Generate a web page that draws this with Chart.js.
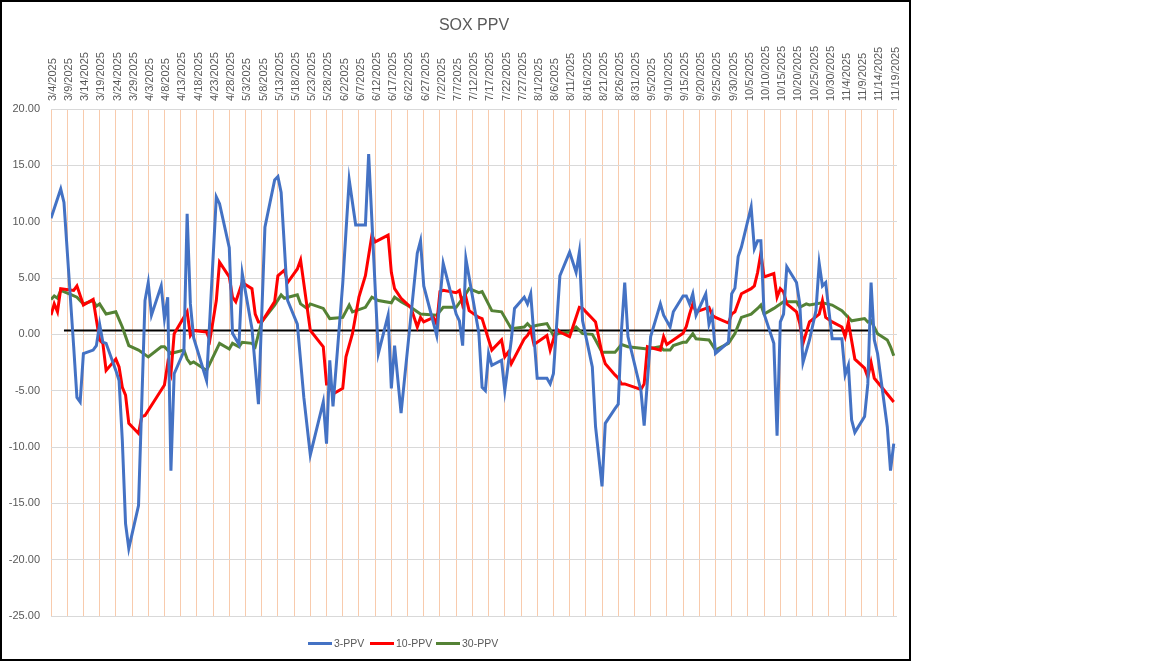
<!DOCTYPE html>
<html>
<head>
<meta charset="utf-8">
<script src="https://cdn.jsdelivr.net/npm/chart.js@4.4.1/dist/chart.umd.min.js"></script>
<style>
  body { margin: 0; background: #fff; font-family: "Liberation Sans", Arial, sans-serif; }
  #frame { position: absolute; left: 0; top: 0; width: 907px; height: 657px; border: 2px solid #000; background: #fff; }
  #wrap { position: relative; width: 907px; height: 657px; }
  #legend { position: absolute; top: 634px; left: 0; width: 907px; height: 14px; font-size: 10.5px; color: #595959; }
  #legend .item { position: absolute; top: 0; display: flex; align-items: center; height: 14px; }
  #legend .swatch { width: 24px; height: 3px; margin-right: 2px; }
</style>
</head>
<body>
<div id="frame">
  <div id="wrap"><canvas id="chart"></canvas></div>
  <div id="legend"></div>
</div>
<script>
// 3-PPV (blue) – turning points
const blueDates = ["3/4","3/7","3/8","3/11","3/12","3/13","3/14","3/17","3/18","3/19","3/20","3/21","3/24","3/25","3/26","3/27","3/28","3/31",
  "4/2","4/3","4/4","4/7","4/8","4/9","4/10","4/11","4/14","4/15","4/16","4/17","4/21","4/24","4/25","4/28","4/29",
  "5/1","5/2","5/5","5/7","5/9","5/12","5/13","5/14","5/16","5/19","5/21","5/23","5/27","5/28","5/29","5/30",
  "6/2","6/4","6/6","6/9","6/10","6/13","6/16","6/17","6/18","6/20","6/25","6/26","6/27",
  "7/1","7/3","7/7","7/8","7/9","7/10","7/14","7/15","7/16","7/17","7/18","7/21","7/22","7/24","7/25","7/28","7/29","7/30",
  "8/1","8/4","8/5","8/6","8/8","8/11","8/13","8/14","8/15","8/18","8/19","8/21","8/22","8/25","8/26","8/27","8/28","8/29",
  "9/2","9/3","9/5","9/8","9/9","9/11","9/12","9/15","9/16","9/17","9/18","9/19","9/22","9/23","9/24","9/25","9/29","9/30",
  "10/1","10/2","10/3","10/6","10/7","10/8","10/9","10/10","10/13","10/14","10/15","10/16","10/17","10/20","10/21","10/22","10/24","10/26","10/27","10/28","10/29","10/31",
  "11/3","11/4","11/5","11/6","11/7","11/10","11/11","11/12","11/13","11/14","11/17","11/18","11/19"];
const blueVals = [10.3,12.9,11.7,-1.1,-5.6,-6.0,-1.7,-1.4,-1.0,0.9,-0.7,-0.8,-3.2,-4.1,-9.4,-16.8,-19.0,-15.2,
  3.0,4.6,1.7,4.3,1.4,3.3,-12.1,-3.5,-1.5,10.7,2.7,-0.3,-4.1,12.2,11.6,7.7,0.1,
  -0.9,5.4,0.5,-6.2,9.5,13.7,14.0,12.6,3.0,0.9,-5.6,-10.7,-6.0,-9.7,-2.3,-6.4,
  4.5,13.7,9.7,9.7,16.0,-1.7,1.7,-4.8,-1.0,-7.0,7.2,8.3,4.3,
  -0.1,6.3,1.8,1.2,-1.0,6.7,0.1,-4.7,-5.0,-1.7,-2.75,-2.3,-5.0,-0.5,2.3,3.3,2.7,3.6,
  -3.9,-3.9,-4.4,-3.5,5.2,7.3,5.5,7.3,1.2,-2.9,-8.2,-13.5,-7.9,-6.6,-6.2,0.35,4.6,-0.2,
  -5.0,-8.1,-0.2,2.7,1.7,0.65,2.0,3.4,3.4,2.7,3.6,1.7,3.6,0.9,1.8,-1.7,-0.7,3.6,
  4.1,6.9,7.75,11.3,7.6,8.3,8.3,1.8,-0.8,-9.0,1.1,1.8,6.0,4.6,2.7,-2.5,-0.5,2.1,6.3,4.3,4.6,-0.4,
  -0.4,-3.6,-2.75,-7.6,-8.7,-7.3,-4.4,4.6,-0.5,-1.7,-8.2,-12.1,-9.7];

// 10-PPV (red)
const redDates = ["3/4","3/5","3/6","3/7","3/11","3/12","3/14","3/17","3/19","3/20","3/21","3/24","3/25","3/26","3/27","3/28","3/31",
  "4/1","4/2","4/8","4/9","4/10","4/11","4/15","4/16","4/17","4/21","4/22","4/23","4/24","4/25","4/28","4/29","4/30",
  "5/2","5/5","5/6","5/7","5/8","5/12","5/13","5/15","5/16","5/19","5/20","5/23","5/27","5/28","5/29","5/30",
  "6/2","6/3","6/5","6/7","6/9","6/11","6/12","6/16","6/17","6/18","6/20","6/23","6/25","6/26","6/27","6/30",
  "7/1","7/2","7/3","7/7","7/8","7/9","7/10","7/11","7/14","7/15","7/18","7/21","7/22","7/23","7/24","7/28","7/29","7/30","7/31",
  "8/4","8/5","8/7","8/8","8/11","8/12","8/14","8/15","8/18","8/19","8/21","8/22","8/25","8/26","8/27","8/28",
  "9/2","9/3","9/4","9/8","9/9","9/10","9/12","9/15","9/16","9/17","9/18","9/19","9/23","9/24","9/25","9/29","9/30",
  "10/1","10/3","10/6","10/7","10/8","10/9","10/10","10/13","10/14","10/15","10/16","10/17","10/20","10/21","10/22","10/24","10/27","10/28","10/29","10/31",
  "11/3","11/4","11/5","11/7","11/10","11/11","11/12","11/13","11/17","11/19"];
const redVals = [1.7,2.7,2.0,4.05,3.9,4.3,2.6,3.1,-0.5,-0.8,-3.2,-2.2,-2.9,-4.7,-5.4,-7.9,-8.8,
  -7.3,-7.2,-4.5,-2.6,-3.5,0.06,2.0,-0.1,0.35,0.2,-0.5,1.2,3.0,6.4,5.1,3.3,2.9,
  4.6,4.05,1.8,1.1,1.1,2.9,5.2,5.7,4.6,5.8,6.6,0.35,-1.1,-4.4,-4.4,-5.3,
  -4.8,-2.0,0.06,3.3,5.2,8.8,8.2,8.8,5.5,4.05,3.2,2.4,0.65,1.5,1.1,1.5,
  0.9,3.8,3.9,3.7,3.9,2.6,3.3,2.1,1.5,1.4,-1.4,-0.5,-2.0,-1.6,-2.6,-0.4,-0.1,0.4,-0.9,
  -0.1,-1.4,0.5,0.2,-0.2,0.65,2.4,2.3,1.4,1.1,-1.7,-2.6,-3.6,-3.9,-4.4,-4.4,
  -4.9,-4.4,-1.1,-1.4,-0.2,-0.9,-0.5,0.1,0.7,1.8,2.7,2.0,2.4,1.7,1.5,1.0,1.8,
  2.0,3.6,4.05,4.3,5.5,7.2,5.1,5.4,3.3,4.05,3.75,2.7,2.0,0.95,-0.8,1.1,1.8,3.0,1.5,1.1,
  0.65,-0.2,1.1,-2.2,-3.0,-3.8,-2.5,-3.9,-5.3,-6.0];

// 30-PPV (green)
const greenDates = ["3/4","3/5","3/6","3/7","3/10","3/12","3/14","3/17","3/18","3/19","3/21","3/24","3/26","3/28","3/31",
  "4/3","4/7","4/8","4/10","4/14","4/15","4/16","4/17","4/21","4/25","4/28","4/29",
  "5/1","5/2","5/5","5/6","5/8","5/12","5/14","5/15","5/19","5/20","5/22","5/23","5/27","5/29",
  "6/2","6/4","6/5","6/9","6/11","6/13","6/17","6/18","6/20","6/23","6/26",
  "7/1","7/3","7/7","7/10","7/11","7/14","7/15","7/18","7/21","7/24","7/28","7/29","7/30",
  "8/1","8/4","8/6","8/8","8/11","8/13","8/15","8/18","8/19","8/21","8/25","8/27","8/29",
  "9/4","9/8","9/9","9/11","9/12","9/15","9/16","9/18","9/19","9/23","9/25","9/29",
  "10/1","10/3","10/6","10/8","10/9","10/10","10/13","10/16","10/20","10/21","10/23","10/24","10/28","10/31",
  "11/3","11/6","11/10","11/11","11/12","11/14","11/17","11/18","11/19"];
const greenVals = [3.1,3.4,3.2,3.9,3.55,3.3,2.7,3.0,2.5,2.7,1.8,2.0,0.65,-1.0,-1.4,
  -2.0,-1.1,-1.1,-1.7,-1.4,-2.2,-2.6,-2.45,-3.2,-0.8,-1.3,-0.8,
  -1.1,-0.7,-0.8,-1.1,1.1,2.6,3.5,3.2,3.5,2.7,2.3,2.7,2.3,1.4,
  1.5,2.6,2.0,2.4,3.3,3.0,2.8,3.3,2.9,2.4,1.8,
  1.7,2.4,2.4,3.6,4.05,3.7,3.8,2.1,2.0,0.5,0.65,0.95,0.65,
  0.8,0.95,-0.1,0.1,0.2,0.65,0.06,0.0,-0.5,-1.6,-1.6,-0.9,-1.1,
  -1.3,-1.1,-1.4,-1.4,-1.0,-0.7,-0.7,0.06,-0.4,-0.5,-1.4,-0.8,
  0.06,1.5,1.8,2.3,2.6,1.8,2.3,2.9,2.9,2.4,2.7,2.6,2.8,2.6,
  2.1,1.2,1.4,1.1,1.2,0.06,-0.5,-1.1,-1.9];

// black reference line
const refDates = ["3/8","11/12"];
const refVals = [0.33, 0.33];

const yTicks = [20, 15, 10, 5, 0, -5, -10, -15, -20, -25];

const START = Date.UTC(2025, 2, 4);
const DAY = 86400000;

function dayOf(md) {
  const [m, d] = md.split("/").map(Number);
  return (Date.UTC(2025, m - 1, d) - START) / DAY;
}

function labelOf(offset) {
  const dt = new Date(START + offset * DAY);
  return `${dt.getUTCMonth() + 1}/${dt.getUTCDate()}/${dt.getUTCFullYear()}`;
}

function points(dates, vals) {
  return dates.map((d, i) => ({ x: dayOf(d), y: vals[i] }));
}

const series = [
  { label: "3-PPV", dates: blueDates, vals: blueVals, color: "#4472C4", legendX: 306 },
  { label: "10-PPV", dates: redDates, vals: redVals, color: "#FF0000", legendX: 368 },
  { label: "30-PPV", dates: greenDates, vals: greenVals, color: "#548235", legendX: 434 },
];

const datasets = series.map((s) => ({
  label: s.label,
  data: points(s.dates, s.vals),
  borderColor: s.color,
  backgroundColor: s.color,
  borderWidth: 3,
  pointRadius: 0,
  tension: 0,
  fill: false,
}));

datasets.push({
  label: "ref",
  data: points(refDates, refVals),
  borderColor: "#000000",
  borderWidth: 2,
  pointRadius: 0,
  fill: false,
});

const tickFont = { family: "'Liberation Sans', Arial, sans-serif", size: 11 };

new Chart(document.getElementById("chart"), {
  type: "line",
  data: { datasets: datasets },
  options: {
    responsive: true,
    maintainAspectRatio: false,
    animation: false,
    layout: { padding: { left: 0, right: 12, top: 0, bottom: 43 } },
    plugins: {
      legend: { display: false },
      tooltip: { enabled: false },
      title: {
        display: true,
        fullSize: false,
        text: "SOX PPV",
        color: "#595959",
        font: { family: "'Liberation Sans', Arial, sans-serif", size: 16, weight: "normal", lineHeight: 1.2 },
        padding: { top: 14, bottom: 0 },
      },
    },
    scales: {
      x: {
        type: "linear",
        position: "top",
        min: 0,
        max: 261,
        afterFit: (scale) => { scale.height = 73.8; },
        border: { display: false },
        grid: { color: "#F8CBAD", lineWidth: 1, drawTicks: false },
        ticks: {
          stepSize: 5,
          includeBounds: false,
          autoSkip: false,
          minRotation: 90,
          maxRotation: 90,
          padding: 8,
          labelOffset: 15,
          color: "#595959",
          font: tickFont,
          callback: (v) => labelOf(v),
        },
      },
      y: {
        min: -25,
        max: 20,
        afterFit: (scale) => { scale.width = 49; },
        afterBuildTicks: (scale) => { scale.ticks = yTicks.map((v) => ({ value: v })); },
        border: { display: false },
        grid: { color: "#D9D9D9", lineWidth: 1, drawTicks: false },
        ticks: {
          padding: 11,
          color: "#595959",
          font: tickFont,
          callback: (v) => v.toFixed(2),
        },
      },
    },
  },
});

// legend below the plot
const legend = document.getElementById("legend");
for (const s of series) {
  const item = document.createElement("div");
  item.className = "item";
  item.style.left = s.legendX + "px";
  item.innerHTML = `<span class="swatch" style="background:${s.color}"></span><span>${s.label}</span>`;
  legend.appendChild(item);
}
</script>
</body>
</html>
